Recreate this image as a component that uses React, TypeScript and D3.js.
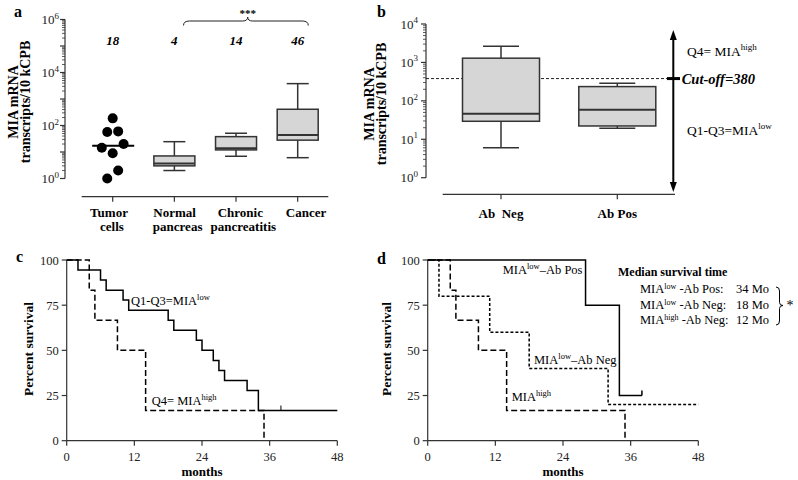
import React from "react";
import * as d3 from "d3";

const FONT = "'Liberation Serif', 'Times New Roman', Times, serif";
const AX = "#333";

// ---------- Panel a data ----------
const aCategories = ["Tumor cells", "Normal pancreas", "Chronic pancreatitis", "Cancer"];
const aLabelLines = [["Tumor", "cells"], ["Normal", "pancreas"], ["Chronic", "pancreatitis"], ["Cancer"]];
const aCounts = ["18", "4", "14", "46"];
const tumorCellValues = [186, 57, 60, 14.5, 20, 9, 2, 1];
const tumorCellMedian = 17.3;
const boxCategories = ["Normal pancreas", "Chronic pancreatitis", "Cancer"];
const boxMin = [2.0, 6.9, 6.1];
const boxQ1 = [3.0, 12, 28];
const boxMedian = [3.7, 13.8, 44];
const boxQ3 = [7.1, 38, 410];
const boxMax = [24.5, 51, 3800];
const aExponents = [0, 1, 2, 3, 4, 5, 6];
const aLabelExponents = [0, 2, 4, 6];

// ---------- Panel b data ----------
const bCategories = ["Ab  Neg", "Ab Pos"];
const bMin = [6.0, 19.4];
const bQ1 = [29.4, 22.2];
const bMedian = [46, 59];
const bQ3 = [1290, 235];
const bMax = [2640, 288];
const bExponents = [0, 1, 2, 3, 4];
const cutoff = 380;

// ---------- Panel c data ----------
const cLowTimes = [0, 2, 6, 7, 10, 11, 18, 19, 23, 24, 26, 27, 28, 32, 34, 48];
const cLowSurv = [100, 94.4, 88.9, 83.3, 77.8, 72.2, 66.7, 61.1, 55.6, 50, 44.4, 38.9, 33.3, 27.8, 16.7, 16.7];
const cLowCensor = [38];
const cHighTimes = [0, 4, 5, 9, 14, 35];
const cHighSurv = [100, 83.3, 66.7, 50, 16.7, 0];

// ---------- Panel d data ----------
const dPosTimes = [0, 28, 34, 38];
const dPosSurv = [100, 75, 25, 25];
const dPosCensor = [38];
const dNegTimes = [0, 2, 11, 18, 32, 48];
const dNegSurv = [100, 80, 60, 40, 20, 20];
const dHighTimes = [0, 4, 5, 9, 14, 35];
const dHighSurv = [100, 83.3, 66.7, 50, 16.7, 0];
const medianRows = [
  { sup: "low", group: "-Ab Pos:", value: "34 Mo" },
  { sup: "low", group: "-Ab Neg:", value: "18 Mo" },
  { sup: "high", group: "-Ab Neg:", value: "12 Mo" },
];

const monthTicks = [0, 12, 24, 36, 48];
const pctTicks = [0, 25, 50, 75, 100];

function Sup({ base, sup, after, supSize = 8, shift = 5 }: any) {
  return (
    <>
      <tspan>{base}</tspan>
      <tspan fontSize={supSize} dy={-shift}>{sup}</tspan>
      {after !== undefined && <tspan dy={shift}>{after}</tspan>}
    </>
  );
}

function LogYAxis({ y, x, exps, labelExps, labelX }: any) {
  const minors: number[] = [];
  for (let i = 0; i < exps.length - 1; i++) {
    for (let k = 2; k <= 9; k++) minors.push(k * Math.pow(10, exps[i]));
  }
  const top = y(Math.pow(10, exps[exps.length - 1]));
  const bot = y(Math.pow(10, exps[0]));
  return (
    <g>
      <line x1={x} x2={x} y1={top} y2={bot} stroke={AX} strokeWidth={1.2} />
      {exps.map((e: number) => (
        <line key={"M" + e} x1={x - 5} x2={x} y1={y(Math.pow(10, e))} y2={y(Math.pow(10, e))} stroke={AX} strokeWidth={1.2} />
      ))}
      {minors.map((v, i) => (
        <line key={"m" + i} x1={x - 3} x2={x} y1={y(v)} y2={y(v)} stroke={AX} strokeWidth={0.8} />
      ))}
      {labelExps.map((e: number) => (
        <text key={"L" + e} x={labelX} y={y(Math.pow(10, e)) + 4.5} fontSize={13} textAnchor="end" fill="#222">
          <Sup base="10" sup={String(e)} supSize={9} shift={5.5} />
        </text>
      ))}
    </g>
  );
}

function BoxPlot({ cx, y, min, q1, med, q3, max, w, capW }: any) {
  return (
    <g stroke={AX} strokeWidth={1.5}>
      <line x1={cx} x2={cx} y1={y(max)} y2={y(q3)} />
      <line x1={cx} x2={cx} y1={y(q1)} y2={y(min)} />
      <line x1={cx - capW / 2} x2={cx + capW / 2} y1={y(max)} y2={y(max)} />
      <line x1={cx - capW / 2} x2={cx + capW / 2} y1={y(min)} y2={y(min)} />
      <rect x={cx - w / 2} y={y(q3)} width={w} height={y(q1) - y(q3)} fill="#d6d6d6" />
      <line x1={cx - w / 2} x2={cx + w / 2} y1={y(med)} y2={y(med)} strokeWidth={2} />
    </g>
  );
}

// simple row-based dodge for the dot plot
function dodge(values: number[], y: (v: number) => number, cx: number, step: number) {
  const sorted = values.map((v, i) => ({ v, i, py: y(v) })).sort((a, b) => a.py - b.py);
  const rows: any[][] = [];
  sorted.forEach((p) => {
    const last = rows[rows.length - 1];
    if (last && p.py - last[0].py < 10) last.push(p);
    else rows.push([p]);
  });
  const out: { x: number; y: number }[] = [];
  rows.forEach((row) => {
    const n = row.length;
    const offs: number[] = [];
    if (n % 2 === 1) {
      const half = (n - 1) / 2;
      for (let k = half; k >= 1; k--) offs.push(k * step, -k * step);
      offs.push(0);
    } else {
      for (let k = n / 2; k >= 1; k--) offs.push((k - 0.5) * step, -(k - 0.5) * step);
    }
    row.forEach((p, j) => out.push({ x: cx + offs[j], y: p.py }));
  });
  return out;
}

function SurvivalAxes({ x, y, label }: any) {
  const [x0, x1] = x.range();
  const [y0, y1] = y.range();
  return (
    <g>
      <line x1={x0} x2={x1} y1={y0} y2={y0} stroke={AX} strokeWidth={1.2} />
      <line x1={x0} x2={x0} y1={y0} y2={y1} stroke={AX} strokeWidth={1.2} />
      {monthTicks.map((t) => (
        <g key={"x" + t}>
          <line x1={x(t)} x2={x(t)} y1={y0} y2={y0 + 5} stroke={AX} strokeWidth={1.2} />
          <text x={x(t)} y={461} fontSize={12.5} textAnchor="middle" fill="#222">{t}</text>
        </g>
      ))}
      {pctTicks.map((t) => (
        <g key={"y" + t}>
          <line x1={x0 - 5} x2={x0} y1={y(t)} y2={y(t)} stroke={AX} strokeWidth={1.2} />
          <text x={x0 - 8} y={y(t) + 4.5} fontSize={12.5} textAnchor="end" fill="#222">{t}</text>
        </g>
      ))}
      <text x={(x0 + x1) / 2} y={476} fontSize={13} fontWeight="bold" textAnchor="middle">months</text>
      <text transform={`translate(${label},349) rotate(-90)`} fontSize={13.5} fontWeight="bold" textAnchor="middle">
        Percent survival
      </text>
    </g>
  );
}

function stepPath(times: number[], surv: number[], x: any, y: any) {
  const pts: [number, number][] = times.map((t, i) => [t, surv[i]]);
  return d3
    .line<[number, number]>()
    .x((d) => x(d[0]))
    .y((d) => y(d[1]))
    .curve(d3.curveStepAfter)(pts) as string;
}

export default function App() {
  const ay = d3.scaleLog().domain([1, 1e6]).range([178.5, 19.5]);
  const ax = d3.scalePoint<string>().domain(aCategories).range([112.7, 297.7]);
  const aLabelX = d3.scalePoint<string>().domain(aCategories).range([109, 306]);
  const dots = dodge(tumorCellValues, ay, ax("Tumor cells")!, 10.9);

  const by = d3.scaleLog().domain([1, 1e4]).range([177.7, 24]);
  const bx = d3.scalePoint<string>().domain(bCategories).range([501, 617.3]);

  const cx = d3.scaleLinear().domain([0, 48]).range([66.7, 337.3]);
  const dx = d3.scaleLinear().domain([0, 48]).range([427.7, 698.3]);
  const sy = d3.scaleLinear().domain([0, 100]).range([440.7, 260]);

  const braceY = 21;
  const bl = 183.5, br = 308.3, bm = 247.7;
  const brace = d3.path();
  brace.moveTo(bl, braceY + 4.5);
  brace.quadraticCurveTo(bl, braceY, bl + 6, braceY);
  brace.lineTo(bm - 5, braceY);
  brace.quadraticCurveTo(bm, braceY, bm, braceY - 4);
  brace.quadraticCurveTo(bm, braceY, bm + 5, braceY);
  brace.lineTo(br - 6, braceY);
  brace.quadraticCurveTo(br, braceY, br, braceY + 4.5);

  const rb = d3.path();
  const rbx = 776, rt = 287, rbm = 305.5, rbb = 325;
  rb.moveTo(rbx, rt);
  rb.quadraticCurveTo(rbx + 3.5, rt, rbx + 3.5, rt + 4);
  rb.lineTo(rbx + 3.5, rbm - 3);
  rb.quadraticCurveTo(rbx + 3.5, rbm, rbx + 7, rbm);
  rb.quadraticCurveTo(rbx + 3.5, rbm, rbx + 3.5, rbm + 3);
  rb.lineTo(rbx + 3.5, rbb - 4);
  rb.quadraticCurveTo(rbx + 3.5, rbb, rbx, rbb);

  const arrowX = 673.3;

  return (
    <svg
      width={798}
      height={480}
      style={{ position: "absolute", left: 0, top: 0, background: "#fff", display: "block", fontFamily: FONT }}
    >
      <rect width={798} height={480} fill="#fff" />

      {/* ================= Panel a ================= */}
      <text x={14} y={17} fontSize={16} fontWeight="bold">a</text>
      <text transform="translate(17.5,102) rotate(-90)" fontSize={14} fontWeight="bold" textAnchor="middle">MIA mRNA</text>
      <text transform="translate(30,102) rotate(-90)" fontSize={14} fontWeight="bold" textAnchor="middle">transcripts/10 kCPB</text>
      <LogYAxis y={ay} x={65} exps={aExponents} labelExps={aLabelExponents} labelX={59} />
      <line x1={81.7} x2={328.3} y1={196.7} y2={196.7} stroke={AX} strokeWidth={1.2} />
      {aCategories.map((c, i) => (
        <g key={c}>
          <line x1={ax(c)} x2={ax(c)} y1={196.7} y2={201.7} stroke={AX} strokeWidth={1.2} />
          {aLabelLines[i].map((ln, j) => (
            <text key={j} x={aLabelX(c)! + (j === 1 ? 3 : 0)} y={217 + j * 13.5} fontSize={13} fontWeight="bold" textAnchor="middle">
              {ln}
            </text>
          ))}
          <text x={ax(c)} y={44.5} fontSize={13} fontWeight="bold" fontStyle="italic" textAnchor="middle">
            {aCounts[i]}
          </text>
        </g>
      ))}
      {dots.map((d, i) => (
        <circle key={i} cx={d.x} cy={d.y} r={5} fill="#000" />
      ))}
      <line
        x1={ax("Tumor cells")! - 20.5}
        x2={ax("Tumor cells")! + 21.5}
        y1={ay(tumorCellMedian)}
        y2={ay(tumorCellMedian)}
        stroke="#000"
        strokeWidth={2}
      />
      {boxCategories.map((c, i) => (
        <BoxPlot key={c} cx={ax(c)} y={ay} min={boxMin[i]} q1={boxQ1[i]} med={boxMedian[i]} q3={boxQ3[i]} max={boxMax[i]} w={41} capW={22} />
      ))}
      <path d={brace.toString()} fill="none" stroke="#222" strokeWidth={1} />
      <text x={bm} y={17} fontSize={11} textAnchor="middle" fontWeight="bold">***</text>

      {/* ================= Panel b ================= */}
      <text x={377} y={17} fontSize={16} fontWeight="bold">b</text>
      <text transform="translate(373.5,104) rotate(-90)" fontSize={14} fontWeight="bold" textAnchor="middle">MIA mRNA</text>
      <text transform="translate(386,104) rotate(-90)" fontSize={14} fontWeight="bold" textAnchor="middle">transcripts/10 kCPB</text>
      <LogYAxis y={by} x={426} exps={bExponents} labelExps={bExponents} labelX={418} />
      <line x1={442.7} x2={675} y1={194.3} y2={194.3} stroke={AX} strokeWidth={1.2} />
      {bCategories.map((c) => (
        <g key={c}>
          <line x1={bx(c)} x2={bx(c)} y1={194.3} y2={199.3} stroke={AX} strokeWidth={1.2} />
          <text x={bx(c)} y={218} fontSize={13} fontWeight="bold" textAnchor="middle" style={{ whiteSpace: "pre" }}>
            {c}
          </text>
        </g>
      ))}
      <line x1={426} x2={668} y1={by(cutoff)} y2={by(cutoff)} stroke="#222" strokeWidth={1} strokeDasharray="3,2" />
      {bCategories.map((c, i) => (
        <BoxPlot key={c} cx={bx(c)} y={by} min={bMin[i]} q1={bQ1[i]} med={bMedian[i]} q3={bQ3[i]} max={bMax[i]} w={77} capW={36} />
      ))}
      <line x1={arrowX} x2={arrowX} y1={38} y2={184} stroke="#000" strokeWidth={2} />
      <polygon points={`${arrowX},30 ${arrowX - 3.5},40 ${arrowX + 3.5},40`} fill="#000" />
      <polygon points={`${arrowX},192 ${arrowX - 3.5},182 ${arrowX + 3.5},182`} fill="#000" />
      <line x1={667} x2={680} y1={by(cutoff)} y2={by(cutoff)} stroke="#000" strokeWidth={3} />
      <text x={681.7} y={84} fontSize={14.5} fontWeight="bold" fontStyle="italic">Cut-off=380</text>
      <text x={687} y={55.5} fontSize={13.5}>
        <Sup base="Q4= MIA" sup="high" supSize={9} shift={6} />
      </text>
      <text x={687} y={135} fontSize={13.5}>
        <Sup base="Q1-Q3=MIA" sup="low" supSize={9} shift={6} />
      </text>

      {/* ================= Panel c ================= */}
      <text x={16} y={262} fontSize={16} fontWeight="bold">c</text>
      <SurvivalAxes x={cx} y={sy} label={32.5} />
      <path d={stepPath(cLowTimes, cLowSurv, cx, sy)} fill="none" stroke="#000" strokeWidth={1.5} />
      {cLowCensor.map((t) => (
        <line key={t} x1={cx(t)} x2={cx(t)} y1={sy(16.7)} y2={sy(16.7) - 5} stroke="#000" strokeWidth={1} />
      ))}
      <path d={stepPath(cHighTimes, cHighSurv, cx, sy)} fill="none" stroke="#000" strokeWidth={1.5} strokeDasharray="6,3" />
      <text x={131} y={305} fontSize={12.5}>
        <Sup base="Q1-Q3=MIA" sup="low" supSize={8.5} shift={5} />
      </text>
      <text x={151.7} y={405} fontSize={12.5}>
        <Sup base="Q4= MIA" sup="high" supSize={8.5} shift={5} />
      </text>

      {/* ================= Panel d ================= */}
      <text x={377} y={264} fontSize={16} fontWeight="bold">d</text>
      <SurvivalAxes x={dx} y={sy} label={391} />
      <path d={stepPath(dPosTimes, dPosSurv, dx, sy)} fill="none" stroke="#000" strokeWidth={1.5} />
      {dPosCensor.map((t) => (
        <line key={t} x1={dx(t)} x2={dx(t)} y1={sy(25)} y2={sy(25) - 5} stroke="#000" strokeWidth={1.5} />
      ))}
      <path d={stepPath(dNegTimes, dNegSurv, dx, sy)} fill="none" stroke="#000" strokeWidth={1.5} strokeDasharray="3,2" />
      <path d={stepPath(dHighTimes, dHighSurv, dx, sy)} fill="none" stroke="#000" strokeWidth={1.5} strokeDasharray="6,3" />
      <text x={502.7} y={274} fontSize={12.5}>
        <Sup base="MIA" sup="low" after="–Ab Pos" supSize={8.5} shift={5} />
      </text>
      <text x={534} y={363.5} fontSize={12.5}>
        <Sup base="MIA" sup="low" after="–Ab Neg" supSize={8.5} shift={5} />
      </text>
      <text x={511.7} y={400.5} fontSize={12.5}>
        <Sup base="MIA" sup="high" supSize={8.5} shift={5} />
      </text>
      <text x={618} y={275.5} fontSize={12} fontWeight="bold">Median survival time</text>
      {medianRows.map((r, i) => (
        <g key={i}>
          <text x={640} y={293 + i * 15.5} fontSize={12.5}>
            <Sup base="MIA" sup={r.sup} after={" " + r.group} supSize={8} shift={4} />
          </text>
          <text x={736} y={293 + i * 15.5} fontSize={12.5}>{r.value}</text>
        </g>
      ))}
      <path d={rb.toString()} fill="none" stroke="#000" strokeWidth={1} />
      <text x={790} y={310} fontSize={14} textAnchor="middle">*</text>
    </svg>
  );
}
